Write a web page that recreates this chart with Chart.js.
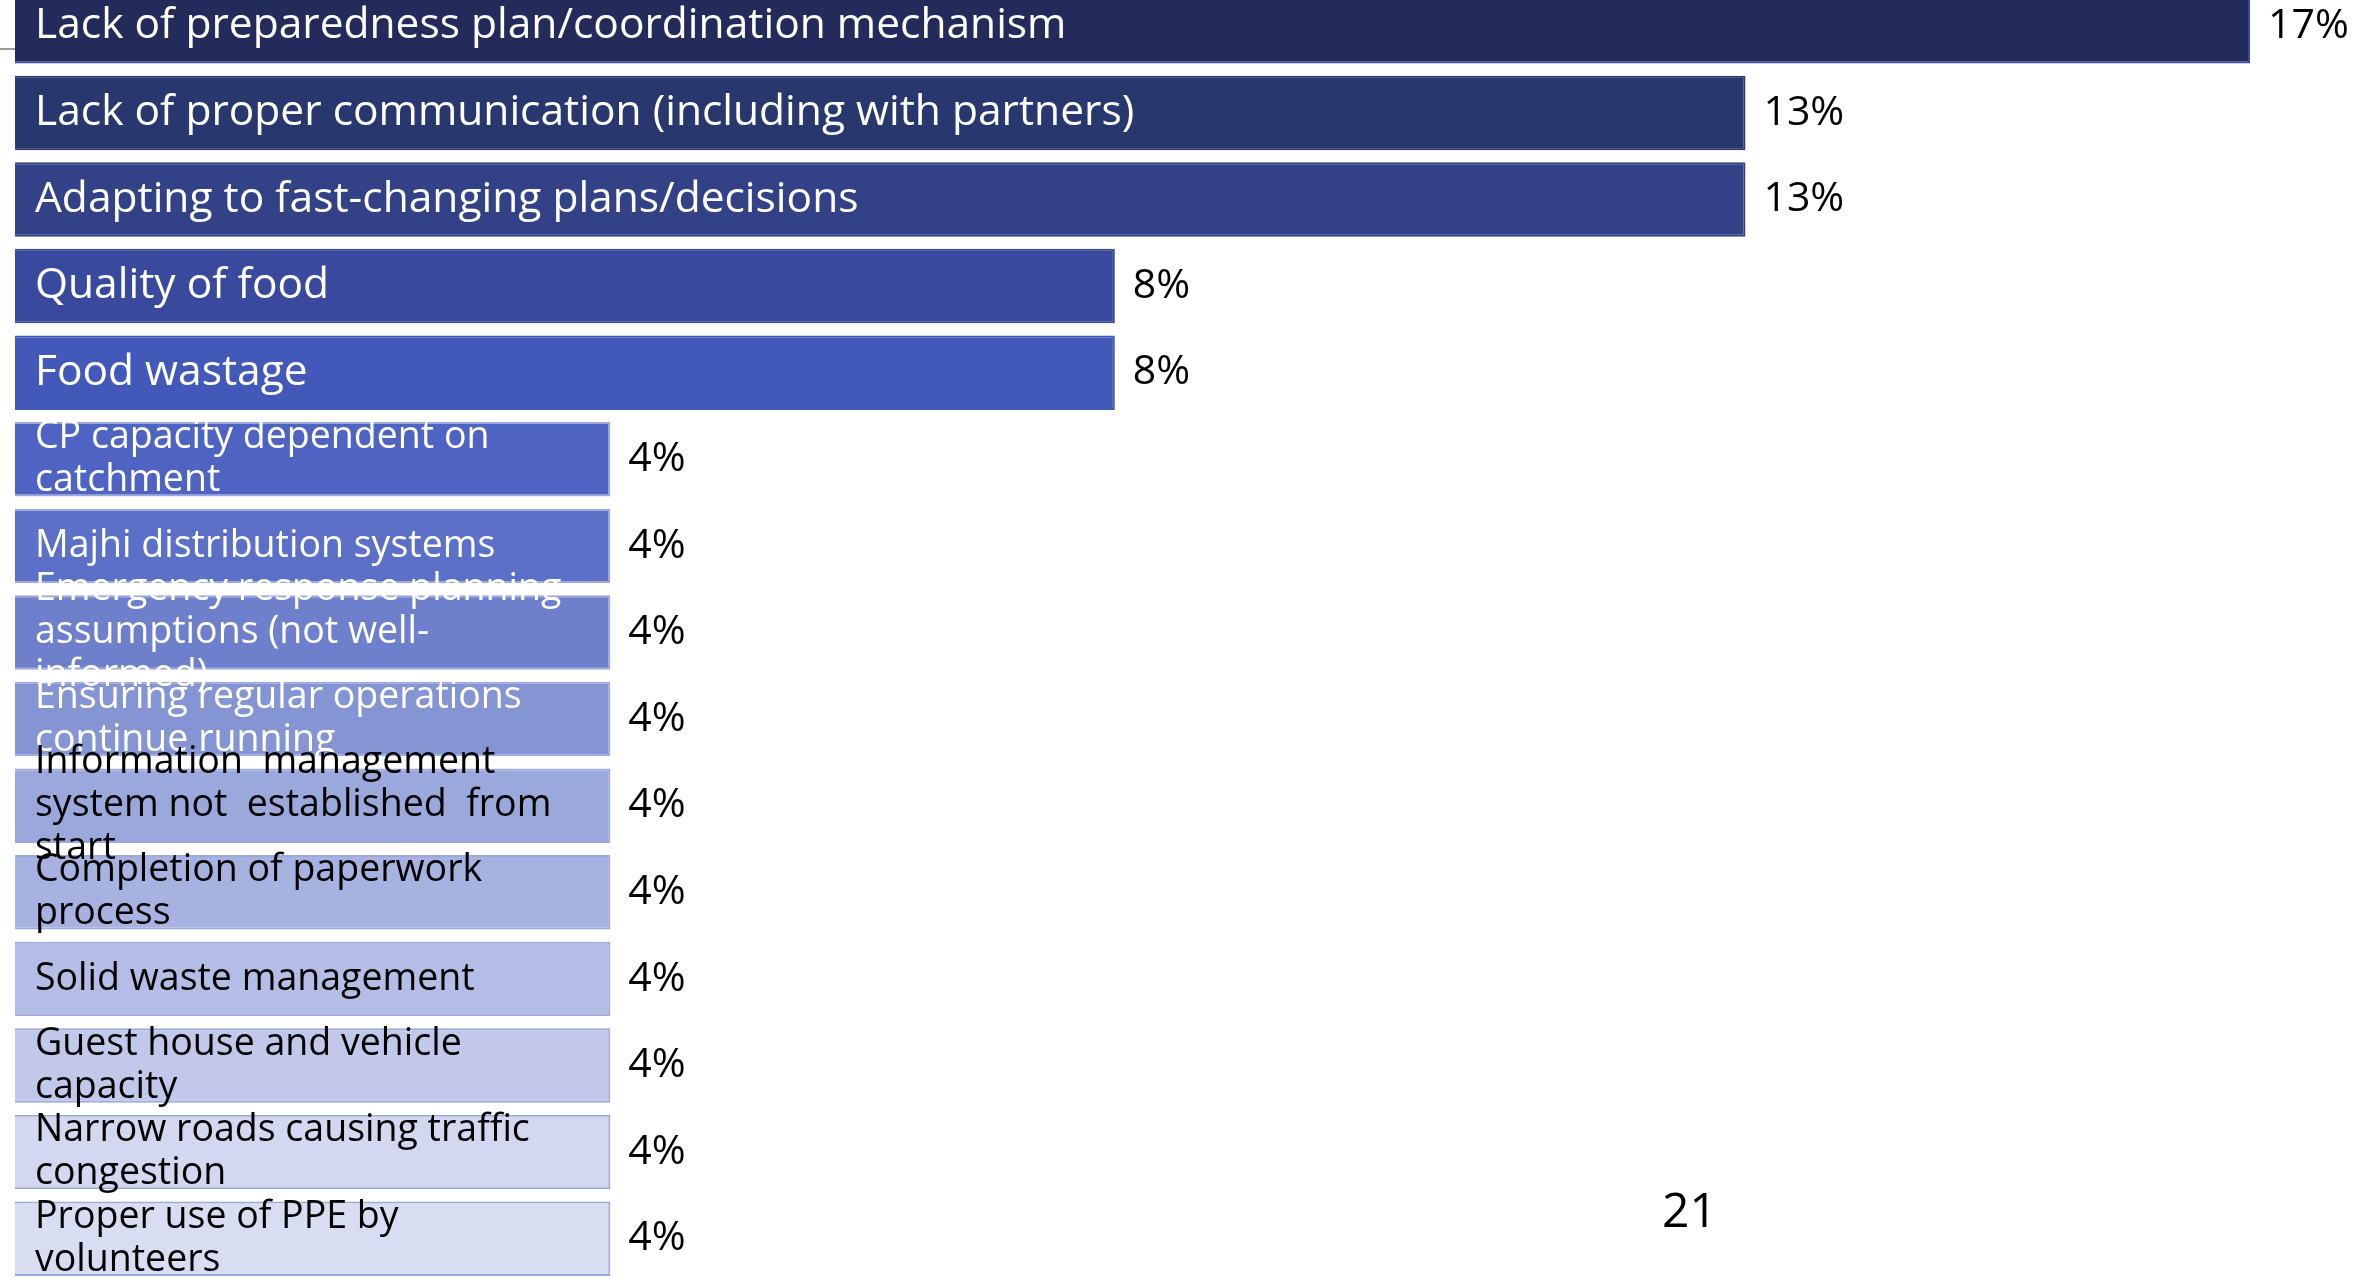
<!DOCTYPE html>
<html>
<head>
<meta charset="utf-8">
<script src="https://cdn.jsdelivr.net/npm/chart.js@4.4.1/dist/chart.umd.min.js"></script>
<style>
  html, body { margin: 0; padding: 0; background: #fff; overflow: hidden; }
  body { width: 2369px; height: 1282px; position: relative; font-family: "Open Sans", sans-serif; }
  #wrap { position: absolute; left: 0; top: -30px; width: 2369px; height: 1330px; }
  #tick { position: absolute; left: 0; top: 48px; width: 15px; height: 2px; background: #9a9a9a; }
  #pageNo { position: absolute; left: 1662px; top: 1176px; font-size: 48px; color: #000; }
</style>
</head>
<body>
<div id="wrap"><canvas id="chart" width="2369" height="1330"></canvas></div>
<div id="tick"></div>
<div id="pageNo">21</div>
<script>
const categories = [
  ['Lack of preparedness plan/coordination mechanism'],
  ['Lack of proper communication (including with partners)'],
  ['Adapting to fast-changing plans/decisions'],
  ['Quality of food'],
  ['Food wastage'],
  ['CP capacity dependent on', 'catchment'],
  ['Majhi distribution systems'],
  ['Emergency response planning', 'assumptions (not well-', 'informed)'],
  ['Ensuring regular operations', 'continue running'],
  ['Information  management', 'system not  established  from', 'start'],
  ['Completion of paperwork', 'process'],
  ['Solid waste management'],
  ['Guest house and vehicle', 'capacity'],
  ['Narrow roads causing traffic', 'congestion'],
  ['Proper use of PPE by', 'volunteers']
];
const shares = [17, 13, 13, 8, 8, 4, 4, 4, 4, 4, 4, 4, 4, 4, 4];

const barColors = [
  '#222b5a', '#29376f', '#334287', '#394a9e', '#4259ba',
  '#4f64c2', '#5b70c6', '#6e7fcc', '#8595d4', '#9ba8dc',
  '#a7b2e0', '#b4bde5', '#c1c8ea', '#d3d8f0', '#d9ddf2'
];
const borderColors = barColors.map((c, i) => i === 0 ? '#3f47a8' : (i < 5 ? c : '#9ca8de'));

// the slide's bars don't start at zero, they start a bit left of it
const axisStart = -0.72;

// draws the text inside the bars and the % at the end of each bar
const barText = {
  id: 'barText',
  afterDatasetsDraw(chart) {
    const ctx = chart.ctx;
    const meta = chart.getDatasetMeta(0);
    ctx.save();
    meta.data.forEach((bar, i) => {
      const lines = categories[i];
      const size = i < 5 ? 42.5 : 37.5;
      const lineH = 43;
      ctx.font = size + 'px "Open Sans"';
      ctx.textBaseline = 'middle';
      ctx.textAlign = 'left';
      ctx.fillStyle = i < 9 ? '#ffffff' : '#000000';
      lines.forEach((ln, j) => {
        ctx.fillText(ln, bar.base + 20, bar.y + (j - (lines.length - 1) / 2) * lineH);
      });
      ctx.font = '41px "Open Sans"';
      ctx.fillStyle = '#000000';
      ctx.fillText(shares[i] + '%', bar.x + 18, bar.y);
    });
    ctx.restore();
  }
};

new Chart(document.getElementById('chart'), {
  type: 'bar',
  data: {
    labels: categories,
    datasets: [{
      data: shares,
      base: axisStart,
      backgroundColor: barColors,
      borderColor: borderColors,
      borderWidth: 2,
      barPercentage: 0.86,
      categoryPercentage: 1
    }]
  },
  options: {
    indexAxis: 'y',
    responsive: false,
    animation: false,
    layout: { padding: { left: 15, right: 119, top: 13, bottom: 18 } },
    plugins: { legend: { display: false }, tooltip: { enabled: false } },
    scales: {
      x: { display: false, min: axisStart, max: 17 },
      y: { display: false }
    }
  },
  plugins: [barText]
});
</script>
</body>
</html>
